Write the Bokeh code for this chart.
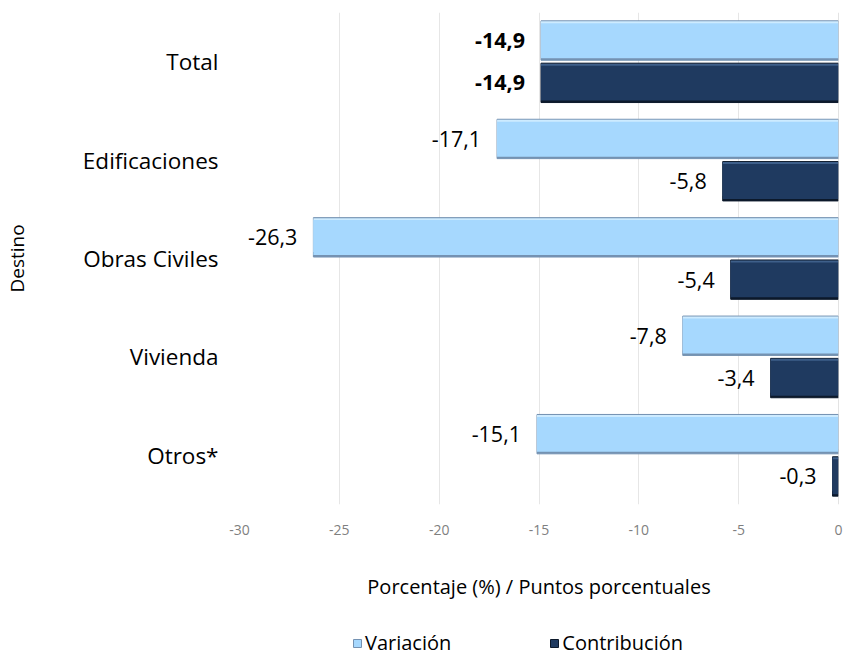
from bokeh.plotting import figure
from bokeh.layouts import column
from bokeh.models import ColumnDataSource, FactorRange, FixedTicker, Legend, LegendItem, Span
from bokeh.transform import dodge
from bokeh.core.properties import value
from bokeh.embed import file_html
from bokeh.resources import INLINE

categories = ["Total", "Edificaciones", "Obras Civiles", "Vivienda", "Otros*"]
variacion = [-14.9, -17.1, -26.3, -7.8, -15.1]
contribucion = [-14.9, -5.8, -5.4, -3.4, -0.3]
x_ticks = [-30, -25, -20, -15, -10, -5, 0]
x_tick_labels = ["-30", "-25", "-20", "-15", "-10", "-5", "0"]
series_names = ["Variación", "Contribución"]


def fmt(v):
    return f"{v:.1f}".replace(".", ",")


src = ColumnDataSource(dict(
    cat=categories,
    var=variacion,
    con=contribucion,
    var_lbl=[fmt(v) for v in variacion],
    con_lbl=[fmt(v) for v in contribucion],
    style=["bold" if c == "Total" else "normal" for c in categories],
))

FONT = "Open Sans"
# (main fill, top highlight, edge)
LIGHT = ("#A6D8FE", "#CDEBFF", "#7492B2")
DARK = ("#1F3A60", "#3E5F8A", "#0C192B")
OFF = 0.215

p = figure(
    y_range=FactorRange(factors=categories[::-1]),
    x_range=(-30, 0),
    width=844, height=610,
    output_backend="svg", toolbar_location=None,
    min_border_left=238, min_border_right=6, min_border_top=12, min_border_bottom=106,
)
p.outline_line_color = None
p.background_fill_color = "white"
p.ygrid.grid_line_color = None
p.xgrid.grid_line_color = "#E6E6E6"
p.xaxis.ticker = FixedTicker(ticks=x_ticks)
p.xaxis.major_label_overrides = dict(zip(x_ticks, x_tick_labels))


def bevel_bar(col, center, colors):
    main, hi, edge = colors
    base = p.hbar(y=dodge("cat", center, range=p.y_range), right=col, left=0, height=0.4,
                  source=src, fill_color=edge, line_color=edge, line_width=1)
    p.hbar(y=dodge("cat", center + 0.0225, range=p.y_range), right=col, left=0, height=0.345,
           source=src, fill_color=hi, line_color=None)
    p.hbar(y=dodge("cat", center - 0.0025, range=p.y_range), right=col, left=0, height=0.355,
           source=src, fill_color=main, line_color=None)
    return base


bevel_bar("var", OFF, LIGHT)
bevel_bar("con", -OFF, DARK)

p.add_layout(Span(location=0, dimension="height", line_color="#C8C8C8", line_width=1))

p.text(x="var", y=dodge("cat", OFF, range=p.y_range), text="var_lbl", source=src,
       x_offset=-16, text_align="right", text_baseline="middle",
       text_font=value(FONT), text_font_size="21.5px", text_font_style="style", text_color="black")
p.text(x="con", y=dodge("cat", -OFF, range=p.y_range), text="con_lbl", source=src,
       x_offset=-16, text_align="right", text_baseline="middle",
       text_font=value(FONT), text_font_size="21.5px", text_font_style="style", text_color="black")

# axes
p.xaxis.axis_line_color = None
p.xaxis.major_tick_line_color = None
p.xaxis.minor_tick_line_color = None
p.xaxis.major_label_text_color = "#7F7F7F"
p.xaxis.major_label_text_font = FONT
p.xaxis.major_label_text_font_size = "14px"
p.xaxis.major_label_standoff = 14
p.xaxis.axis_label = "Porcentaje (%) / Puntos porcentuales"
p.xaxis.axis_label_text_font = FONT
p.xaxis.axis_label_text_font_size = "20px"
p.xaxis.axis_label_text_font_style = "normal"
p.xaxis.axis_label_text_color = "black"
p.xaxis.axis_label_standoff = 35

p.yaxis.axis_line_color = None
p.yaxis.major_tick_line_color = None
p.yaxis.minor_tick_line_color = None
p.yaxis.major_label_text_font = FONT
p.yaxis.major_label_text_font_size = "22.5px"
p.yaxis.major_label_text_color = "black"
p.yaxis.major_label_standoff = 15
p.yaxis.axis_label = "Destino"
p.yaxis.axis_label_text_font = FONT
p.yaxis.axis_label_text_font_size = "19px"
p.yaxis.axis_label_text_font_style = "normal"
p.yaxis.axis_label_text_color = "black"
p.yaxis.axis_label_standoff = 50

# legend strip
lg = figure(width=844, height=46, x_range=(0, 1), y_range=(0, 1),
            output_backend="svg", toolbar_location=None,
            min_border_left=0, min_border_right=0, min_border_top=0, min_border_bottom=0)
lg.axis.visible = False
lg.grid.grid_line_color = None
lg.outline_line_color = None
nan = float("nan")
swatch = ColumnDataSource(dict(y=[nan], right=[nan]))
l1 = lg.hbar(y="y", right="right", left=0, height=0.4, source=swatch,
             fill_color=LIGHT[0], line_color=LIGHT[2])
l2 = lg.hbar(y="y", right="right", left=0, height=0.4, source=swatch,
             fill_color=DARK[0], line_color=DARK[2])
legend = Legend(items=[LegendItem(label=series_names[0], renderers=[l1]),
                       LegendItem(label=series_names[1], renderers=[l2])],
                orientation="horizontal", location=(113, 0))
legend.border_line_color = None
legend.background_fill_alpha = 0
legend.label_text_font = FONT
legend.label_text_font_size = "20px"
legend.label_text_color = "black"
legend.glyph_width = 10
legend.glyph_height = 10
legend.label_standoff = 3
legend.spacing = 98
legend.padding = 0
legend.margin = 0
lg.add_layout(legend, "center")

open("out.html", "w").write(file_html(column(p, lg), INLINE))
